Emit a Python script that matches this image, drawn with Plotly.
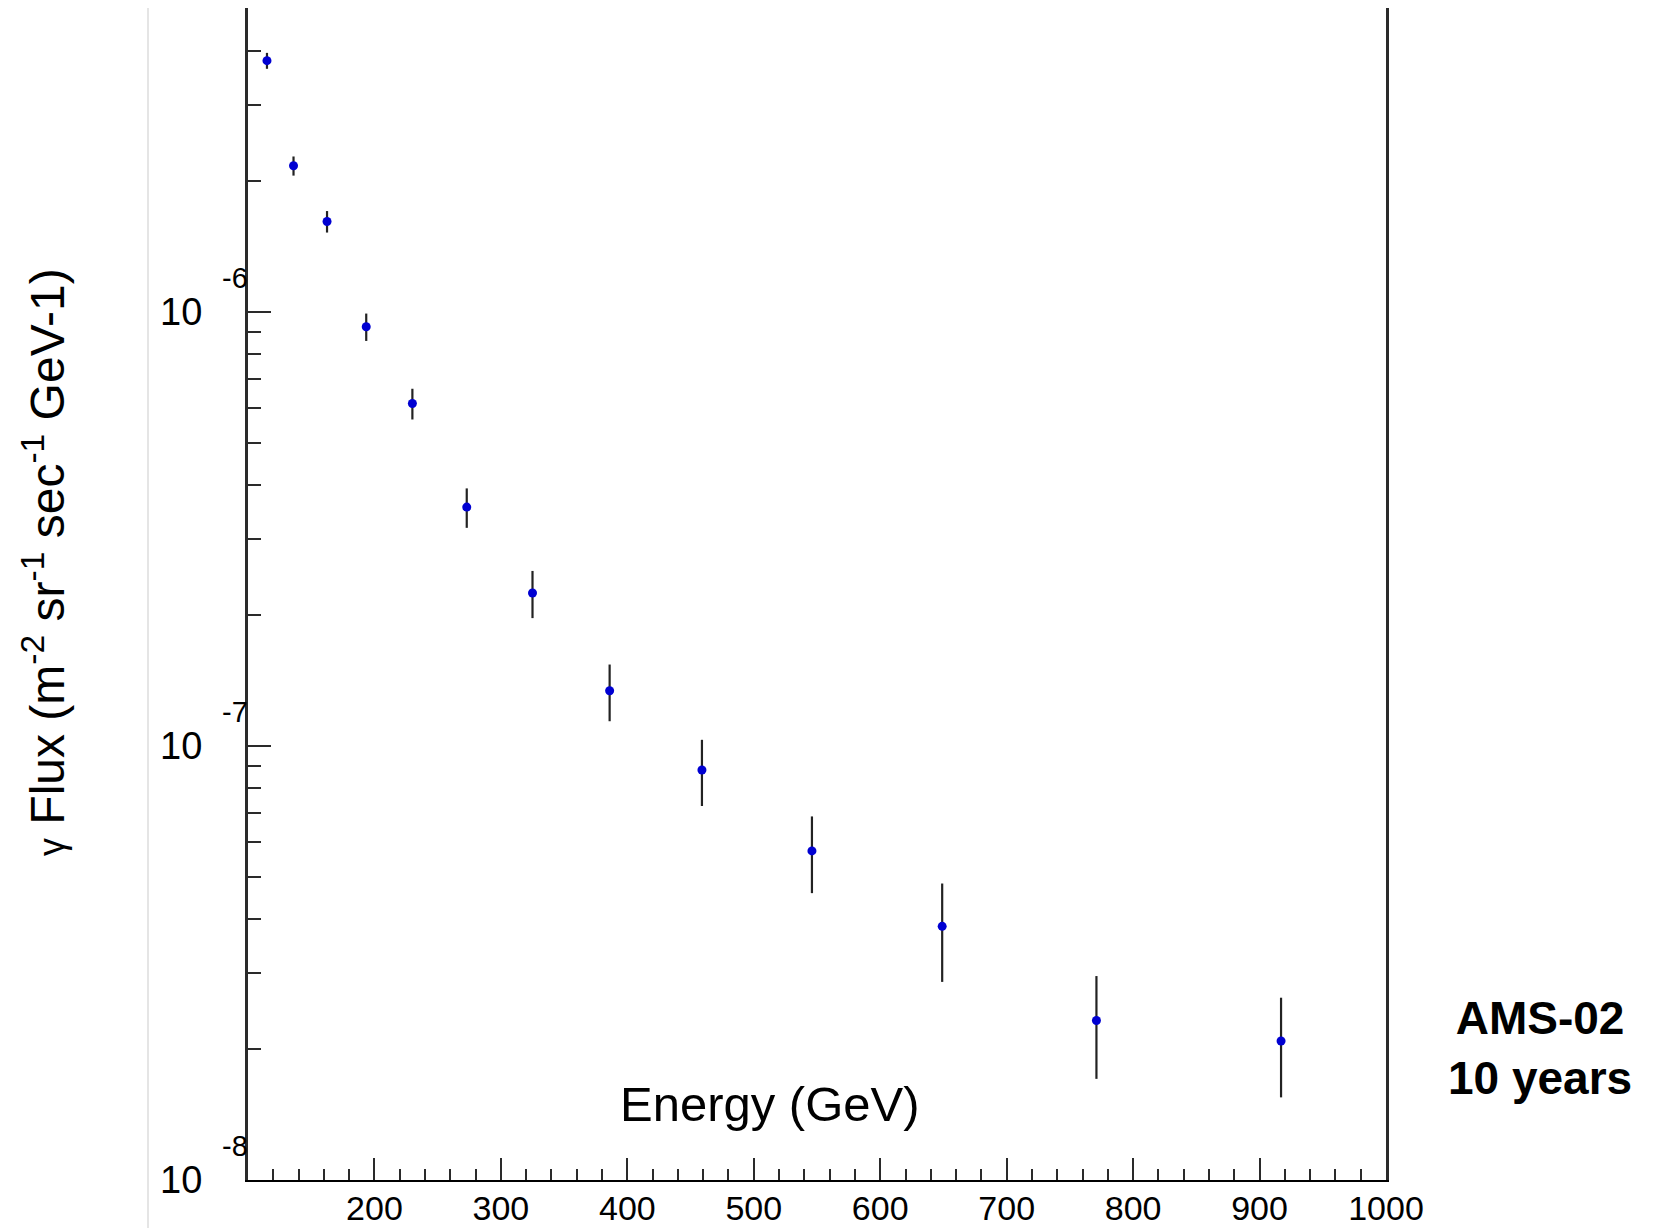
import plotly.graph_objects as go

# ---- data ----
energy_gev = [115, 136, 162.5, 193.5, 230, 273, 325, 386, 459, 546, 649, 771, 917]
flux = [3.79e-6, 2.17e-6, 1.615e-6, 9.24e-7, 6.15e-7, 3.55e-7, 2.25e-7,
        1.34e-7, 8.8e-8, 5.73e-8, 3.84e-8, 2.33e-8, 2.09e-8]
flux_err = [1.6e-7, 1.1e-7, 9.2e-8, 6.7e-8, 5.0e-8, 3.7e-8, 2.8e-8,
            2.0e-8, 1.53e-8, 1.15e-8, 9.8e-9, 6.2e-9, 5.4e-9]

x_tick_values = [200, 300, 400, 500, 600, 700, 800, 900, 1000]
x_tick_labels = ["200", "300", "400", "500", "600", "700", "800", "900", "1000"]
y_decade_exponents = [-8, -7, -6]

x_title = "Energy (GeV)"
y_title = ("<span style='font-size:36px'>γ</span> Flux (m<sup>-2</sup> sr<sup>-1</sup> "
           "sec<sup>-1</sup> GeV-1)")
side_label = "<b>AMS-02</b><br><b>10 years</b>"

FONT = "Liberation Sans, Arial, Helvetica, sans-serif"
AX = "#2a2a2a"

# page body has an 8 px margin: figure is sized/offset to compensate
W, H = 1651, 1220
L, R, T, B = 240, 273, 0, 48
PW, PH = W - L - R, H - T - B


def px_x(page_x):
    return (page_x - 8 - L) / PW


def px_y(page_y):
    return (H - B - (page_y - 8)) / PH


y_minor = [m * 10.0 ** e for e in y_decade_exponents for m in range(2, 10)
           if m * 10.0 ** e <= 5.0e-6]

fig = go.Figure()
fig.add_trace(go.Scatter(
    x=energy_gev, y=flux, mode="markers",
    marker=dict(color="#0000d2", size=9, line=dict(width=0)),
    error_y=dict(type="data", array=flux_err, visible=True,
                 color="#222222", thickness=2.2, width=0),
    showlegend=False,
))

fig.update_layout(
    width=W, height=H, autosize=False,
    margin=dict(l=L, r=R, t=T, b=B, pad=0),
    paper_bgcolor="white", plot_bgcolor="white",
    font=dict(family=FONT, color="black"),
    xaxis=dict(
        range=[100, 1000], showgrid=False, zeroline=False, automargin=False,
        showline=True, linecolor="black", linewidth=2, mirror=True,
        ticks="inside", ticklen=22, tickwidth=1.5, tickcolor=AX,
        tickmode="array", tickvals=x_tick_values, ticktext=x_tick_labels,
        tickfont=dict(size=34, family=FONT, color="black"),
        ticklabelstandoff=-3,
        minor=dict(ticks="inside", ticklen=11, tickwidth=1.5, tickcolor=AX,
                   dtick=20, tick0=100, showgrid=False),
    ),
    yaxis=dict(
        type="log", range=[-8, -5.3], showgrid=False, zeroline=False, automargin=False,
        showline=True, linecolor=AX, linewidth=2.5, mirror=True,
        ticks="inside", ticklen=23, tickwidth=1.5, tickcolor=AX,
        tickmode="array", tickvals=[10.0 ** e for e in y_decade_exponents],
        showticklabels=False,
        minor=dict(ticks="inside", ticklen=13, tickwidth=1.5, tickcolor=AX,
                   tickmode="array", tickvals=y_minor, showgrid=False),
    ),
)

# ROOT-style decade labels: "10" with a raised exponent
for e in y_decade_exponents:
    fig.add_annotation(xref="paper", yref="y", x=0, y=e, text="10",
                       showarrow=False, xanchor="right", yanchor="middle",
                       xshift=-44, font=dict(size=38, family=FONT, color="black"))
    fig.add_annotation(xref="paper", yref="y", x=0, y=e, text=str(e),
                       showarrow=False, xanchor="right", yanchor="middle",
                       xshift=2, yshift=34, font=dict(size=29, family=FONT, color="black"))

# axis titles
fig.add_annotation(xref="paper", yref="paper", x=px_x(770), y=px_y(1104),
                   text=x_title, showarrow=False, xanchor="center", yanchor="middle",
                   font=dict(size=49, family=FONT, color="black"))
fig.add_annotation(xref="paper", yref="paper", x=px_x(44), y=px_y(562),
                   text=y_title, showarrow=False, textangle=-90,
                   xanchor="center", yanchor="middle",
                   font=dict(size=48, family=FONT, color="black"))

# side label
fig.add_annotation(xref="paper", yref="paper", x=px_x(1540), y=px_y(1048),
                   text=side_label, showarrow=False, xanchor="center", yanchor="middle",
                   align="center", font=dict(size=46, family=FONT, color="black"))

# faint vertical separator line at the left
fig.add_shape(type="line", xref="paper", yref="paper",
              x0=px_x(148), x1=px_x(148), y0=px_y(1228), y1=px_y(0),
              line=dict(color="#dcdcdc", width=1.5))

fig.write_html("out.html")
